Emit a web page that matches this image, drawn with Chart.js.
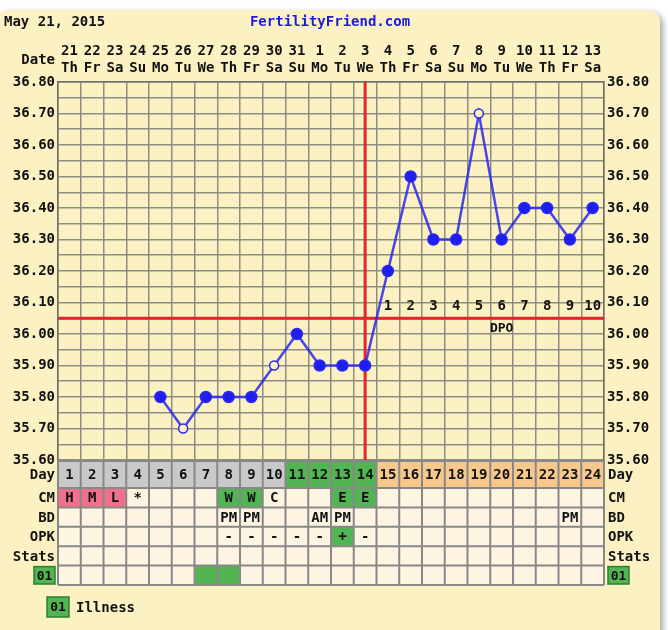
<!DOCTYPE html>
<html>
<head>
<meta charset="utf-8">
<script src="https://cdn.jsdelivr.net/npm/chart.js@4.4.1/dist/chart.umd.min.js"></script>
<style>
  html, body { margin: 0; padding: 0; background: #fff; }
  #wrap { position: relative; width: 668px; height: 630px; overflow: hidden; }
  #panel {
    position: absolute; left: -4px; top: 10px; width: 664px; height: 650px;
    background: #fcf1c3; border-radius: 12px;
    box-shadow: 3px 3px 6px rgba(0,0,0,0.35);
  }
  canvas { position: absolute; left: 0; top: 0; }
</style>
</head>
<body>
<div id="wrap">
  <div id="panel"></div>
  <canvas id="chart" width="668" height="630"></canvas>
</div>
<script>
// チャートのデータ
const chartDate = 'May 21, 2015';
const siteName = 'FertilityFriend.com';
const dates = ['21','22','23','24','25','26','27','28','29','30','31','1','2','3','4','5','6','7','8','9','10','11','12','13'];
const weekdays = ['Th','Fr','Sa','Su','Mo','Tu','We','Th','Fr','Sa','Su','Mo','Tu','We','Th','Fr','Sa','Su','Mo','Tu','We','Th','Fr','Sa'];
const cycleDays = [1,2,3,4,5,6,7,8,9,10,11,12,13,14,15,16,17,18,19,20,21,22,23,24];
const temps = [null,null,null,null,35.80,35.70,35.80,35.80,35.80,35.90,36.00,35.90,35.90,35.90,36.20,36.50,36.30,36.30,36.70,36.30,36.40,36.40,36.30,36.40];
const openTempDays = [6, 10, 19];      // 白抜きの点
const coverline = 36.05;
const ovulationDay = 14;
const fertileDays = [11, 12, 13, 14];
const cm  = ['H','M','L','*','','','','W','W','C','','','E','E','','','','','','','','','',''];
const bd  = ['','','','','','','','PM','PM','','','AM','PM','','','','','','','','','','PM',''];
const opk = ['','','','','','','','-','-','-','-','-','+','-','','','','','','','','','',''];
const illnessDays = [7, 8];
const tempMin = 35.60, tempMax = 36.80, tempStep = 0.05;

const FONT = 'DejaVu Sans Mono';
const BOLD = (s) => `bold ${s}px "${FONT}"`;
const GREEN = '#52b452', PINK = '#f0708e', GRAY = '#c9c9c9', ORANGE = '#f7c88c', CELL = '#fdf5e2';
const GRID = '#8d8d84';

function tickLabel(v) {
    const r = Math.round(v * 100);
    return r % 10 === 0 ? (r / 100).toFixed(2) : '';
}

// 赤い線と DPO
const markersPlugin = {
    id: 'markers',
    beforeDatasetsDraw(chart) {
        const { ctx, chartArea: a, scales: { x, y } } = chart;
        const cy = y.getPixelForValue(coverline);
        const ox = x.getPixelForValue(ovulationDay - 1);
        ctx.save();
        ctx.strokeStyle = '#e3262b';
        ctx.lineWidth = 3;
        ctx.beginPath();
        ctx.moveTo(a.left, cy); ctx.lineTo(a.right, cy);
        ctx.moveTo(ox, a.top); ctx.lineTo(ox, a.bottom);
        ctx.stroke();

        ctx.fillStyle = '#111';
        ctx.font = BOLD(14);
        ctx.textAlign = 'center';
        ctx.textBaseline = 'middle';
        cycleDays.forEach((d, i) => {
            if (d > ovulationDay) ctx.fillText(String(d - ovulationDay), x.getPixelForValue(i), cy - 12);
        });
        ctx.font = BOLD(13);
        ctx.fillText('DPO', x.getPixelForValue(ovulationDay + 5), cy + 10);
        ctx.restore();
    }
};

// ヘッダーと下の表
const tablePlugin = {
    id: 'ffTable',
    afterDraw(chart) {
        const { ctx, chartArea: a, scales: { x } } = chart;
        const n = cycleDays.length;
        const cw = (a.right - a.left) / n;
        ctx.save();

        // ヘッダー
        ctx.textBaseline = 'middle';
        ctx.font = BOLD(14);
        ctx.fillStyle = '#111';
        ctx.textAlign = 'left';
        ctx.fillText(chartDate, 4, 22);
        ctx.fillStyle = '#1b1be0';
        ctx.textAlign = 'center';
        ctx.fillText(siteName, 330, 22);
        ctx.fillStyle = '#111';
        ctx.textAlign = 'right';
        ctx.fillText('Date', a.left - 3, 60);

        const rows = [
            { label: 'Day', h: 27, text: i => String(cycleDays[i]), fill: i => {
                const d = cycleDays[i];
                if (d > ovulationDay) return ORANGE;
                if (fertileDays.includes(d)) return GREEN;
                return GRAY;
            } },
            { label: 'CM', h: 19.4, text: i => cm[i], fill: i => {
                if (['H','M','L'].includes(cm[i])) return PINK;
                if (['W','E'].includes(cm[i])) return GREEN;
                return CELL;
            } },
            { label: 'BD', h: 19.4, text: i => bd[i], fill: () => CELL },
            { label: 'OPK', h: 19.4, text: i => opk[i], fill: i => opk[i] === '+' ? GREEN : CELL },
            { label: 'Stats', h: 19.4, text: () => '', fill: () => CELL },
            { label: '01', h: 19.4, text: () => '', fill: i => illnessDays.includes(cycleDays[i]) ? GREEN : CELL, box: true }
        ];

        let top = a.bottom + 1;
        rows.forEach(row => {
            for (let i = 0; i < n; i++) {
                const cx = x.getPixelForValue(i);
                ctx.fillStyle = row.fill(i);
                ctx.fillRect(cx - cw / 2, top, cw, row.h);
                const t = row.text(i);
                if (t) {
                    ctx.fillStyle = '#111';
                    ctx.font = BOLD(14);
                    ctx.textAlign = 'center';
                    ctx.fillText(t, cx, top + row.h / 2 + 1);
                }
            }
            const my = top + row.h / 2 + 1;
            if (row.box) {
                [a.left - 24, a.right + 4].forEach(bx => {
                    ctx.fillStyle = GREEN;
                    ctx.fillRect(bx, top + 1, 21, row.h - 2);
                    ctx.strokeStyle = '#2e7d32';
                    ctx.lineWidth = 1.5;
                    ctx.strokeRect(bx, top + 1, 21, row.h - 2);
                    ctx.fillStyle = '#111';
                    ctx.font = BOLD(13);
                    ctx.textAlign = 'center';
                    ctx.fillText(row.label, bx + 10.5, my);
                });
            } else {
                ctx.fillStyle = '#111';
                ctx.font = BOLD(14);
                ctx.textAlign = 'right';
                ctx.fillText(row.label, a.left - 3, my);
                ctx.textAlign = 'left';
                ctx.fillText(row.label, a.right + 4, my);
            }
            row.top = top;
            top += row.h;
        });

        // 表の罫線
        ctx.strokeStyle = '#888888';
        ctx.lineWidth = 2;
        ctx.beginPath();
        rows.forEach(r => { ctx.moveTo(a.left, r.top); ctx.lineTo(a.right, r.top); });
        ctx.moveTo(a.left, top); ctx.lineTo(a.right, top);
        for (let i = 0; i <= n; i++) {
            const gx = a.left + i * cw;
            ctx.moveTo(gx, a.bottom); ctx.lineTo(gx, top);
        }
        ctx.stroke();

        // 凡例
        const ly = top + 12;
        ctx.fillStyle = GREEN;
        ctx.fillRect(47, ly, 22, 20);
        ctx.strokeStyle = '#2e7d32';
        ctx.lineWidth = 1.5;
        ctx.strokeRect(47, ly, 22, 20);
        ctx.fillStyle = '#111';
        ctx.font = BOLD(13);
        ctx.textAlign = 'center';
        ctx.fillText('01', 58, ly + 11);
        ctx.font = BOLD(14);
        ctx.textAlign = 'left';
        ctx.fillText('Illness', 76, ly + 11);
        ctx.restore();
    }
};

const isOpen = (c) => openTempDays.includes(cycleDays[c.dataIndex]);

new Chart(document.getElementById('chart').getContext('2d'), {
    type: 'line',
    data: {
        labels: dates.map((d, i) => [d, weekdays[i]]),
        datasets: [{
            data: temps,
            borderColor: 'rgba(40,40,238,0.85)',
            borderWidth: 2.5,
            pointRadius: c => isOpen(c) ? 4.5 : 5.5,
            pointBackgroundColor: c => isOpen(c) ? '#fcf1c3' : '#1e1ef0',
            pointBorderColor: '#2a2aee',
            pointBorderWidth: 1.5,
            tension: 0
        }]
    },
    options: {
        responsive: false,
        animation: false,
        devicePixelRatio: 1,
        layout: { padding: { top: 0, bottom: 170, left: 0, right: 0 } },
        plugins: { legend: { display: false }, tooltip: { enabled: false } },
        scales: {
            x: {
                position: 'top',
                offset: true,
                grid: { offset: true, color: GRID, lineWidth: 1.5, drawTicks: false },
                border: { color: '#6e6e66', width: 1.5 },
                ticks: {
                    color: '#111', font: { family: FONT, size: 14, weight: 'bold', lineHeight: 1.15 },
                    maxRotation: 0, autoSkip: false, padding: 6
                },
                afterFit: s => { s.height = 82; }
            },
            y: {
                position: 'left',
                min: tempMin, max: tempMax,
                grid: { color: GRID, lineWidth: 1.5, drawTicks: false },
                border: { color: '#6e6e66', width: 1.5 },
                ticks: {
                    stepSize: tempStep, maxTicksLimit: 40, autoSkip: false, padding: 3,
                    color: '#111', font: { family: FONT, size: 14, weight: 'bold' },
                    callback: tickLabel
                },
                afterFit: s => { s.width = 58; }
            },
            y2: {
                position: 'right',
                min: tempMin, max: tempMax,
                grid: { display: false, drawTicks: false },
                border: { color: '#6e6e66', width: 1.5 },
                ticks: {
                    stepSize: tempStep, maxTicksLimit: 40, autoSkip: false, padding: 3,
                    color: '#111', font: { family: FONT, size: 14, weight: 'bold' },
                    callback: tickLabel
                },
                afterFit: s => { s.width = 64; }
            }
        }
    },
    plugins: [markersPlugin, tablePlugin]
});
</script>
</body>
</html>
